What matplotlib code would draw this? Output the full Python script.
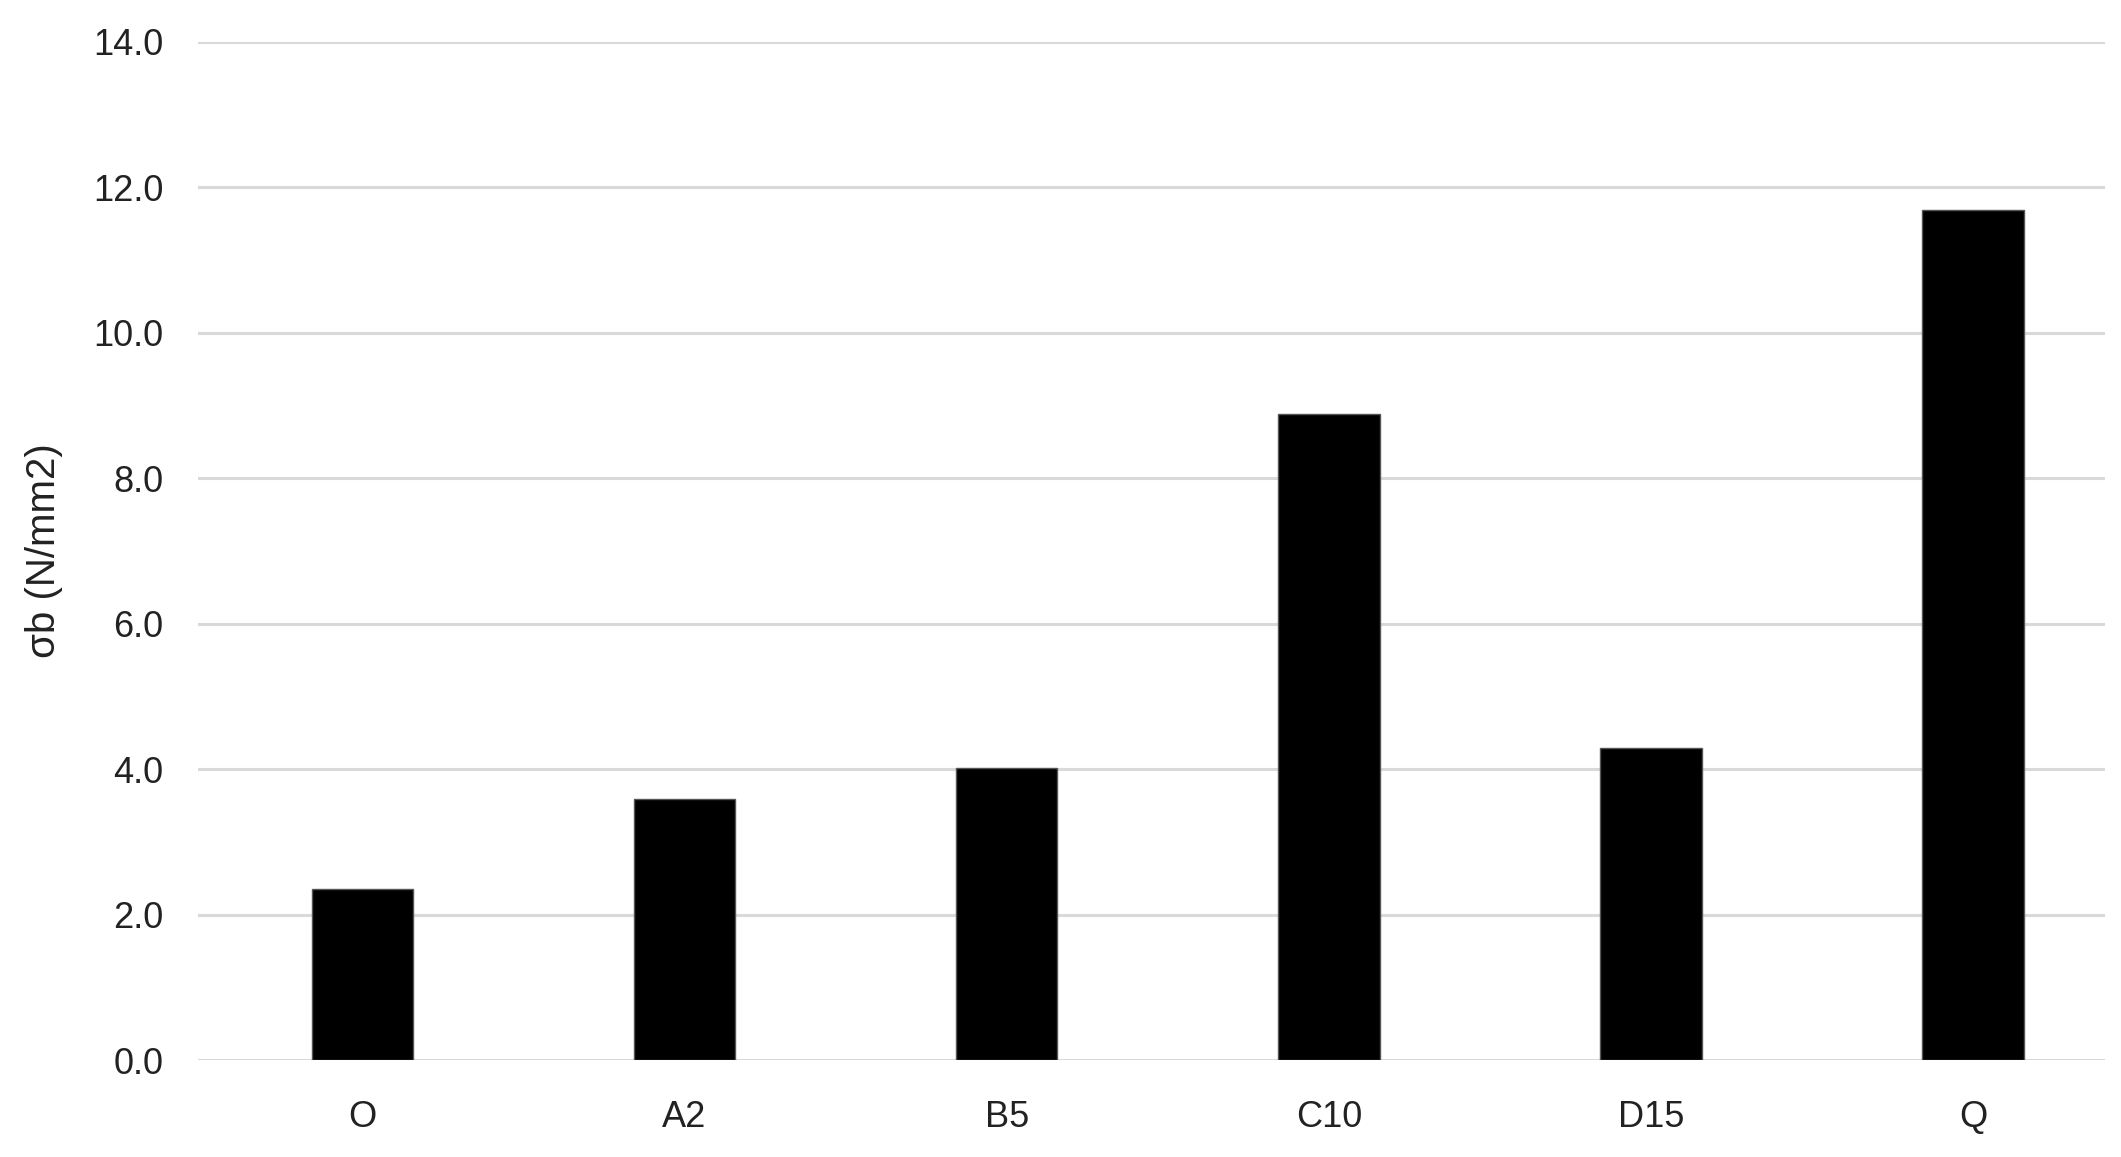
import matplotlib.pyplot as plt
import numpy as np

grupos = ['O', 'A2', 'B5', 'C10', 'D15', 'Q']
sigma_b = [2.35, 3.59, 4.01, 8.88, 4.29, 11.68]
yticks = [0, 2, 4, 6, 8, 10, 12, 14]

plt.rcParams['font.family'] = ['Liberation Sans', 'DejaVu Sans']

fig = plt.figure(figsize=(21.21, 11.57), dpi=100)
ax = fig.add_axes([0.0934, 0.0838, 0.8991, 0.8803])

x = np.arange(len(grupos))
ax.bar(x, sigma_b, width=0.315, color='black', edgecolor='#555555', linewidth=1, zorder=3)

# grid like the spreadsheet chart
ax.set_ylim(0, 14)
ax.set_xlim(-0.51, 5.41)
ax.set_yticks(yticks)
ax.set_yticklabels(['%.1f' % v for v in yticks])
ax.yaxis.grid(True, color='#d9d9d9', linewidth=2.2, zorder=0)
ax.set_axisbelow(True)
for s in ax.spines.values():
    s.set_visible(False)

ax.set_xticks(x)
ax.set_xticklabels(grupos)
ax.tick_params(axis='y', length=0, pad=25, labelsize=26, labelcolor='#222222')
ax.tick_params(axis='x', length=0, pad=29, labelsize=26, labelcolor='#222222')

ax.set_ylabel('σb (N/mm2)', fontsize=29, color='#222222')
ax.yaxis.set_label_coords(-0.071, 0.5)

plt.savefig('out.png', dpi=100)
